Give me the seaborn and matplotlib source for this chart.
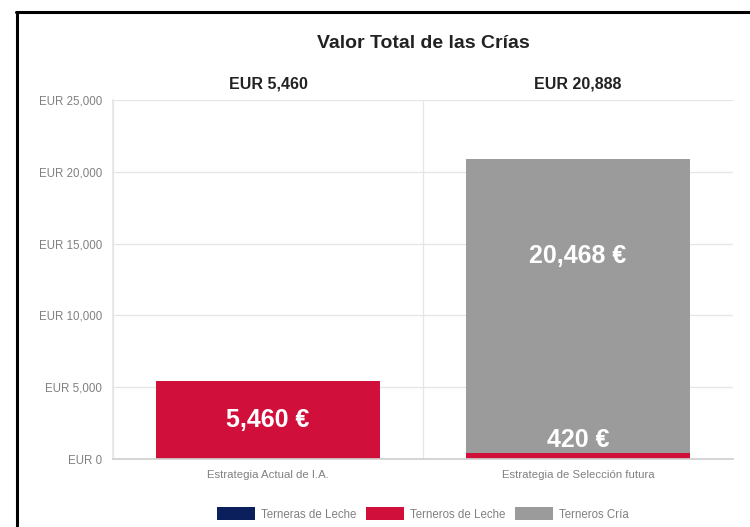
import pandas as pd
import matplotlib.pyplot as plt
import seaborn as sns
from matplotlib.patches import Patch
from matplotlib.lines import Line2D
from matplotlib.ticker import FuncFormatter, FixedLocator

# data
estrategias = ["Estrategia Actual de I.A.", "Estrategia de Selección futura"]
tipos = ["Terneras de Leche", "Terneros de Leche", "Terneros Cría"]
terneras_leche = [0, 0]
terneros_leche = [5460, 420]
terneros_cria = [0, 20468]
colores = ["#0b1f5c", "#d0103a", "#9b9b9b"]

sns.set_theme(style="white")
plt.rcParams["font.family"] = ["Liberation Sans", "DejaVu Sans"]

series = [terneras_leche, terneros_leche, terneros_cria]
rows = []
for tipo, vals in zip(tipos, series):
    for est, v in zip(estrategias, vals):
        rows.append({"estrategia": est, "tipo": tipo, "valor": v})
df = pd.DataFrame(rows)
df["tipo"] = pd.Categorical(df["tipo"], categories=tipos, ordered=True)
df = df.sort_values(["estrategia", "tipo"])
df["top"] = df.groupby("estrategia")["valor"].cumsum()
df["base"] = df["top"] - df["valor"]
totales = df.groupby("estrategia")["valor"].sum().reindex(estrategias)

fig = plt.figure(figsize=(7.5, 5.27), dpi=100)
ax = fig.add_axes([113 / 750, 1 - 459 / 527, 620 / 750, 359 / 527])

# stacked bars: draw the highest layer first, lower layers on top of it
for tipo, color in reversed(list(zip(tipos, colores))):
    sub = df[df["tipo"] == tipo]
    sns.barplot(data=sub, x="estrategia", y="top", order=estrategias, color=color,
                width=0.72, errorbar=None, linewidth=0, saturation=1, ax=ax)

ax.set_ylim(0, 25000)
ax.set_xlim(-0.5, 1.5)
ax.set_xlabel("")
ax.set_ylabel("")
ax.set_yticks(range(0, 25001, 5000))
ax.yaxis.set_major_formatter(FuncFormatter(lambda v, p: f"EUR {v:,.0f}"))
ax.xaxis.set_minor_locator(FixedLocator([-0.5, 0.5]))

grid_c = "#e6e6e6"
ax.grid(axis="y", color=grid_c, linewidth=0.9)
ax.grid(axis="x", which="minor", color=grid_c, linewidth=0.9)
ax.set_axisbelow(True)
for s in ["top", "right"]:
    ax.spines[s].set_visible(False)
ax.spines["left"].set_color(grid_c)
ax.spines["bottom"].set_color("#d0d0d0")
ax.tick_params(axis="y", length=4, color=grid_c, pad=4, labelsize=8.3, labelcolor="#808080")
ax.tick_params(axis="x", which="major", length=0, pad=8, labelsize=8.2, labelcolor="#808080")
ax.tick_params(axis="x", which="minor", length=9, color=grid_c)

# value labels inside the segments
for i, est in enumerate(estrategias):
    sub = df[(df["estrategia"] == est) & (df["valor"] > 0)]
    for _, r in sub.iterrows():
        txt = f"{r['valor']:,.0f} €"
        if r["valor"] < 1000:
            ax.annotate(txt, (i, r["top"]), xytext=(0, 1), textcoords="offset points",
                        ha="center", va="bottom", color="white", fontsize=18,
                        fontweight="bold")
        else:
            # grey label sits a bit above the middle of its segment
            frac = 0.5 if r["base"] == 0 else 0.67
            ax.text(i, r["base"] + r["valor"] * frac, txt, ha="center", va="center",
                    color="white", fontsize=18, fontweight="bold")

# totals above each bar
for i, t in enumerate(totales):
    ax.text(i, 1.033, f"EUR {t:,.0f}", transform=ax.get_xaxis_transform(),
            ha="center", va="baseline", fontsize=11.5, fontweight="bold", color="#222222")

ax.text(0.5, 1.145, "Valor Total de las Crías", transform=ax.transAxes,
        ha="center", va="baseline", fontsize=14, fontweight="bold", color="#222222")

handles = [Patch(facecolor=c, edgecolor="none") for c in colores]
leg = fig.legend(handles, tipos, loc="center", bbox_to_anchor=(423 / 750, 1 - 514 / 527),
                 ncol=3, frameon=False, fontsize=8.3, handlelength=3.3, handleheight=1.3,
                 handletextpad=0.55, columnspacing=0.8)
for t in leg.get_texts():
    t.set_color("#808080")

# frame of the screenshot (top and left edges)
fig.add_artist(Line2D([16 / 750, 1], [1 - 12 / 527, 1 - 12 / 527], color="black", linewidth=2.2))
fig.add_artist(Line2D([17 / 750, 17 / 750], [0, 1 - 12 / 527], color="black", linewidth=2.2))

fig.savefig("out.png", dpi=100)
